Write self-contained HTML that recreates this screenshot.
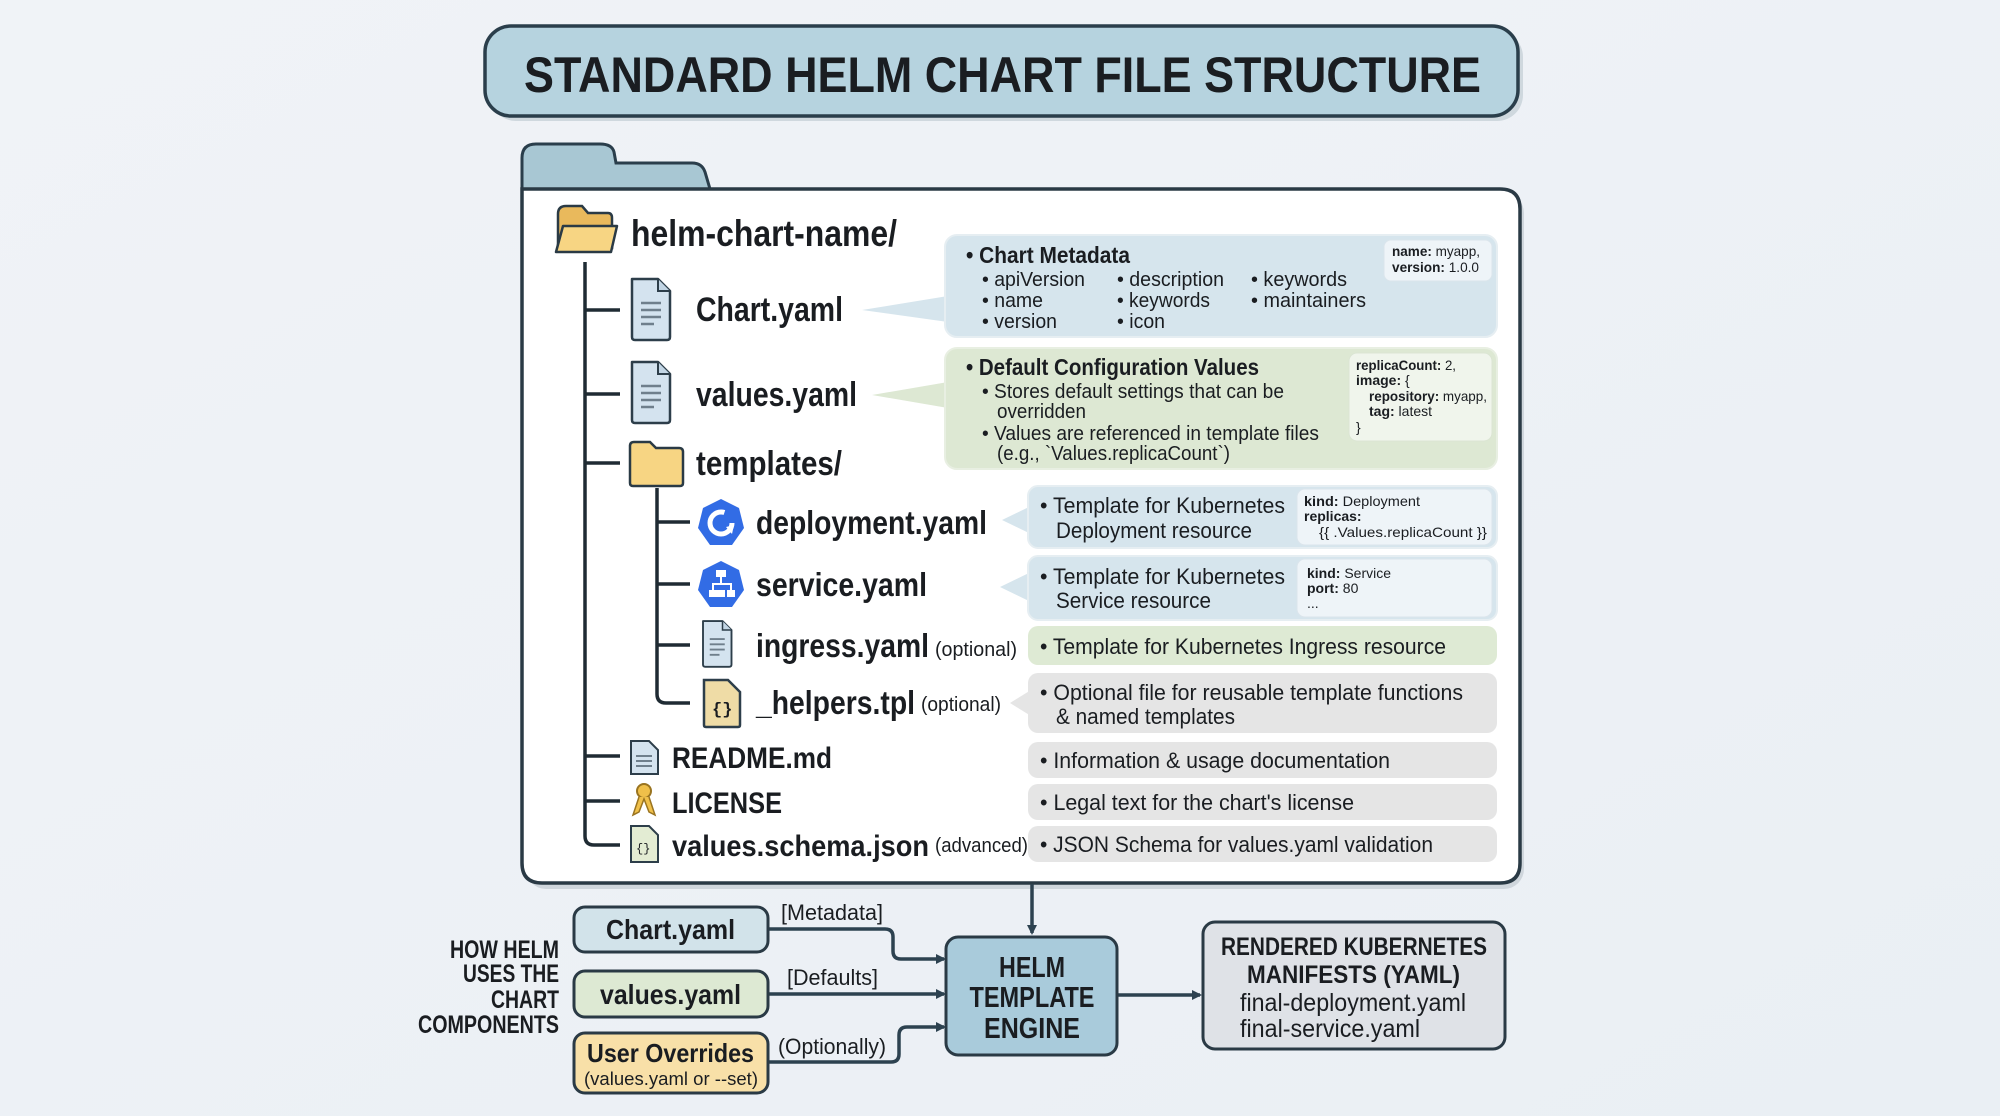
<!DOCTYPE html>
<html><head><meta charset="utf-8"><style>
html,body{margin:0;padding:0;background:#eef2f6;}
svg{display:block}
text{font-family:"Liberation Sans",sans-serif;fill:#1a1d21}
.b{font-weight:bold}
</style></head><body>
<svg width="2000" height="1116" viewBox="0 0 2000 1116" xmlns="http://www.w3.org/2000/svg">
<defs>
<linearGradient id="bg" x1="0" y1="0" x2="1" y2="1"><stop offset="0" stop-color="#f0f3f7"/><stop offset="1" stop-color="#eaeff4"/></linearGradient>
<marker id="ah" markerWidth="10" markerHeight="10" refX="8" refY="5" orient="auto" markerUnits="userSpaceOnUse"><path d="M0,0 L10,5 L0,10 z" fill="#2d4250"/></marker>
<g id="doc"><path d="M0,0 H26 L38,12 V58 Q38,61 35,61 H3 Q0,61 0,58 Z" fill="#d4e3ef" stroke="#2d3e4a" stroke-width="2.5" stroke-linejoin="round"/><path d="M26,0 V12 H38" fill="#c2d5e4" stroke="#2d3e4a" stroke-width="2"/><path d="M9,24 H29 M9,31 H29 M9,38 H29 M9,45 H22" stroke="#6f7f8c" stroke-width="2.5"/></g>
<g id="hept"><polygon points="23,0 41,9 46,29 34,46 12,46 0,29 5,9" fill="#326ce5"/></g>
</defs>
<rect width="2000" height="1116" fill="url(#bg)"/>

<!-- title -->
<rect x="490" y="31" width="1033" height="90" rx="26" fill="#cfd8de"/>
<rect x="485" y="26" width="1033" height="90" rx="26" fill="#b6d3df" stroke="#2a3e4b" stroke-width="3.5"/>
<text x="524" y="92" class="b" font-size="50" textLength="957" lengthAdjust="spacingAndGlyphs">STANDARD HELM CHART FILE STRUCTURE</text>

<!-- panel -->
<path d="M522,189 V158 Q522,144 536,144 H600 Q612,144 614,152 L616,163 H692 Q702,163 705,172 L710,189 Z" fill="#a8c7d3" stroke="#2a3e4b" stroke-width="3"/>
<rect x="526" y="193" width="998" height="696" rx="20" fill="#cfd6dc"/>
<path d="M522,189 H1500 Q1520,189 1520,209 V863 Q1520,883 1500,883 H542 Q522,883 522,863 Z" fill="#ffffff" stroke="#2a3a45" stroke-width="3.5"/>

<!-- tree lines -->
<g stroke="#1f2b33" stroke-width="3.5" fill="none">
<path d="M585,262 V836 Q585,845 594,845 H620"/>
<path d="M585,310 H620 M585,394 H620 M585,463 H620 M585,756 H620 M585,801 H620"/>
<path d="M657,488 V694 Q657,703 666,703 H690"/>
<path d="M657,522 H690 M657,584 H690 M657,645 H690"/>
</g>

<!-- root folder -->
<path d="M558,214 Q558,206 566,206 H582 L588,213 H608 Q612,213 612,218 V248 H558 Z" fill="#e9b95c" stroke="#2a3a45" stroke-width="2.5"/>
<path d="M556,252 L563,226 H617 L611,252 Z" fill="#f7d583" stroke="#2a3a45" stroke-width="2.5" stroke-linejoin="round"/>
<text x="631" y="246" class="b" font-size="37" textLength="266" lengthAdjust="spacingAndGlyphs">helm-chart-name/</text>

<use href="#doc" x="632" y="279"/>
<text x="696" y="321" class="b" font-size="34" textLength="147" lengthAdjust="spacingAndGlyphs">Chart.yaml</text>
<use href="#doc" x="632" y="362"/>
<text x="696" y="406" class="b" font-size="34" textLength="161" lengthAdjust="spacingAndGlyphs">values.yaml</text>
<path d="M630,446 Q630,442 634,442 H650 L656,448 H679 Q683,448 683,452 V483 Q683,486 680,486 H633 Q630,486 630,483 Z" fill="#f7d583" stroke="#2a3a45" stroke-width="2.5"/>
<text x="696" y="475" class="b" font-size="34" textLength="146" lengthAdjust="spacingAndGlyphs">templates/</text>

<!-- deployment -->
<use href="#hept" x="698" y="499"/>
<circle cx="721" cy="523" r="11" fill="none" stroke="#fff" stroke-width="5" stroke-dasharray="55 15"/>
<path d="M726,527 l8,-2 l-2,9 z" fill="#fff"/>
<text x="756" y="534" class="b" font-size="33" textLength="231" lengthAdjust="spacingAndGlyphs">deployment.yaml</text>
<!-- service -->
<use href="#hept" x="698" y="561"/>
<g fill="#fff"><rect x="716" y="570" width="10" height="7"/><rect x="709" y="590" width="8" height="7"/><rect x="717" y="590" width="8" height="7"/><rect x="727" y="590" width="8" height="7"/></g>
<path d="M721,577 V584 M713,590 V584 H731 V590" stroke="#fff" stroke-width="2" fill="none"/>
<text x="756" y="596" class="b" font-size="33" textLength="171" lengthAdjust="spacingAndGlyphs">service.yaml</text>
<!-- ingress -->
<use href="#doc" transform="translate(703,621) scale(0.75)"/>
<text x="756" y="657" class="b" font-size="33" textLength="173" lengthAdjust="spacingAndGlyphs">ingress.yaml</text>
<text x="935" y="656" font-size="20" textLength="82" lengthAdjust="spacingAndGlyphs">(optional)</text>
<!-- helpers -->
<path d="M704,680 H728 L740,692 V725 Q740,727 738,727 H706 Q704,727 704,725 Z" fill="#efdca6" stroke="#2d3e4a" stroke-width="2.5"/>
<text x="712" y="714" font-size="17" class="b" style="font-family:'Liberation Mono',monospace">{}</text>
<text x="756" y="714" class="b" font-size="33" textLength="159" lengthAdjust="spacingAndGlyphs">_helpers.tpl</text>
<text x="921" y="711" font-size="20" textLength="80" lengthAdjust="spacingAndGlyphs">(optional)</text>

<!-- readme -->
<path d="M631,741 H649 L658,750 V774 H631 Z" fill="#d4e3ef" stroke="#2d3e4a" stroke-width="2"/>
<path d="M636,756 H652 M636,761 H652 M636,766 H652" stroke="#6f7f8c" stroke-width="2"/>
<text x="672" y="768" class="b" font-size="30" textLength="160" lengthAdjust="spacingAndGlyphs">README.md</text>
<!-- license -->
<circle cx="644" cy="791" r="7" fill="#f0c04a" stroke="#9a7420" stroke-width="2"/>
<path d="M639,797 L633,815 L639,812 L644,799 L649,812 L655,815 L649,797" fill="#f0c04a" stroke="#9a7420" stroke-width="1.5"/>
<text x="672" y="813" class="b" font-size="30" textLength="110" lengthAdjust="spacingAndGlyphs">LICENSE</text>
<!-- schema -->
<path d="M631,826 H649 L658,835 V862 H631 Z" fill="#e3ecd3" stroke="#2d3e4a" stroke-width="2"/>
<text x="636" y="852" font-size="12" style="font-family:'Liberation Mono',monospace">{}</text>
<text x="672" y="856" class="b" font-size="30" textLength="257" lengthAdjust="spacingAndGlyphs">values.schema.json</text>
<text x="935" y="852" font-size="20" textLength="93" lengthAdjust="spacingAndGlyphs">(advanced)</text>

<!-- callouts -->
<g>
<path d="M948,296 L862,310 L948,322 Z" fill="#d6e5ed"/>
<rect x="945" y="235" width="552" height="102" rx="12" fill="#d6e5ed" stroke="#e6eef2" stroke-width="2"/>
<rect x="1384" y="240" width="108" height="41" rx="7" fill="#eef4f8" stroke="#dbe5ec"/>
<text x="1392" y="256" font-size="14" textLength="88" lengthAdjust="spacingAndGlyphs"><tspan class="b">name:</tspan> myapp,</text>
<text x="1392" y="272" font-size="14" textLength="87" lengthAdjust="spacingAndGlyphs"><tspan class="b">version:</tspan> 1.0.0</text>
<text x="966" y="263" class="b" font-size="23" textLength="164" lengthAdjust="spacingAndGlyphs">• Chart Metadata</text>
<g font-size="20">
<text x="982" y="286" textLength="103" lengthAdjust="spacingAndGlyphs">• apiVersion</text>
<text x="982" y="307" textLength="61" lengthAdjust="spacingAndGlyphs">• name</text>
<text x="982" y="328" textLength="75" lengthAdjust="spacingAndGlyphs">• version</text>
<text x="1117" y="286" textLength="107" lengthAdjust="spacingAndGlyphs">• description</text>
<text x="1117" y="307" textLength="93" lengthAdjust="spacingAndGlyphs">• keywords</text>
<text x="1117" y="328" textLength="48" lengthAdjust="spacingAndGlyphs">• icon</text>
<text x="1251" y="286" textLength="96" lengthAdjust="spacingAndGlyphs">• keywords</text>
<text x="1251" y="307" textLength="115" lengthAdjust="spacingAndGlyphs">• maintainers</text>
</g>
</g>

<g>
<path d="M948,382 L872,395 L948,408 Z" fill="#dde8d3"/>
<rect x="945" y="348" width="552" height="121" rx="12" fill="#dde8d3" stroke="#e8efe2" stroke-width="2"/>
<rect x="1349" y="353" width="143" height="88" rx="8" fill="#f0f5ec" stroke="#dbe5d3"/>
<g font-size="14">
<text x="1356" y="370" textLength="100" lengthAdjust="spacingAndGlyphs"><tspan class="b">replicaCount:</tspan> 2,</text>
<text x="1356" y="385"><tspan class="b">image:</tspan> {</text>
<text x="1369" y="401" textLength="118" lengthAdjust="spacingAndGlyphs"><tspan class="b">repository:</tspan> myapp,</text>
<text x="1369" y="416"><tspan class="b">tag:</tspan> latest</text>
<text x="1356" y="432">}</text>
</g>
<text x="966" y="375" class="b" font-size="23" textLength="293" lengthAdjust="spacingAndGlyphs">• Default Configuration Values</text>
<g font-size="20">
<text x="982" y="398" textLength="302" lengthAdjust="spacingAndGlyphs">• Stores default settings that can be</text>
<text x="997" y="418" textLength="89" lengthAdjust="spacingAndGlyphs">overridden</text>
<text x="982" y="440" textLength="337" lengthAdjust="spacingAndGlyphs">• Values are referenced in template files</text>
<text x="997" y="460" textLength="233" lengthAdjust="spacingAndGlyphs">(e.g., `Values.replicaCount`)</text>
</g>
</g>

<g font-size="22">
<path d="M1031,506 L1002,520 L1031,534 Z" fill="#d6e5ed"/>
<rect x="1028" y="486" width="469" height="62" rx="10" fill="#d6e5ed" stroke="#e6eef2" stroke-width="2"/>
<rect x="1297" y="489" width="195" height="56" rx="8" fill="#eef4f8" stroke="#dbe5ec"/>
<text x="1040" y="513" textLength="245" lengthAdjust="spacingAndGlyphs">• Template for Kubernetes</text>
<text x="1056" y="538" textLength="196" lengthAdjust="spacingAndGlyphs">Deployment resource</text>
<text x="1304" y="506" font-size="14" textLength="116" lengthAdjust="spacingAndGlyphs"><tspan class="b">kind:</tspan> Deployment</text>
<text x="1304" y="521" font-size="14" class="b">replicas:</text>
<text x="1319" y="537" font-size="14" textLength="168" lengthAdjust="spacingAndGlyphs">{{ .Values.replicaCount }}</text>

<path d="M1031,572 L1000,587 L1031,602 Z" fill="#d6e5ed"/>
<rect x="1028" y="556" width="469" height="64" rx="10" fill="#d6e5ed" stroke="#e6eef2" stroke-width="2"/>
<rect x="1297" y="559" width="195" height="58" rx="8" fill="#eef4f8" stroke="#dbe5ec"/>
<text x="1040" y="584" textLength="245" lengthAdjust="spacingAndGlyphs">• Template for Kubernetes</text>
<text x="1056" y="608" textLength="155" lengthAdjust="spacingAndGlyphs">Service resource</text>
<text x="1307" y="578" font-size="14"><tspan class="b">kind:</tspan> Service</text>
<text x="1307" y="593" font-size="14"><tspan class="b">port:</tspan> 80</text>
<text x="1307" y="608" font-size="14">...</text>

<rect x="1028" y="626" width="469" height="39" rx="10" fill="#deead4"/>
<text x="1040" y="654" textLength="406" lengthAdjust="spacingAndGlyphs">• Template for Kubernetes Ingress resource</text>

<path d="M1031,690 L1010,703 L1031,716 Z" fill="#e5e5e5"/>
<rect x="1028" y="673" width="469" height="60" rx="10" fill="#e5e5e5"/>
<text x="1040" y="700" textLength="423" lengthAdjust="spacingAndGlyphs">• Optional file for reusable template functions</text>
<text x="1056" y="724" textLength="179" lengthAdjust="spacingAndGlyphs">&amp; named templates</text>

<rect x="1028" y="742" width="469" height="36" rx="10" fill="#e5e5e5"/>
<text x="1040" y="768" textLength="350" lengthAdjust="spacingAndGlyphs">• Information &amp; usage documentation</text>
<rect x="1028" y="784" width="469" height="36" rx="10" fill="#e5e5e5"/>
<text x="1040" y="810" textLength="314" lengthAdjust="spacingAndGlyphs">• Legal text for the chart's license</text>
<rect x="1028" y="826" width="469" height="36" rx="10" fill="#e5e5e5"/>
<text x="1040" y="852" textLength="393" lengthAdjust="spacingAndGlyphs">• JSON Schema for values.yaml validation</text>
</g>

<!-- bottom flow -->
<g stroke="#2d4250" stroke-width="3.5" fill="none">
<path d="M1032,884 V933" marker-end="url(#ah)"/>
<path d="M768,929 H885 Q893,929 893,937 V951 Q893,959 901,959 H944" marker-end="url(#ah)"/>
<path d="M768,994 H944" marker-end="url(#ah)"/>
<path d="M768,1062 H891 Q899,1062 899,1054 V1035 Q899,1027 907,1027 H944" marker-end="url(#ah)"/>
<path d="M1117,995 H1200" marker-end="url(#ah)"/>
</g>

<rect x="574" y="907" width="194" height="45" rx="11" fill="#d2e3ea" stroke="#2a3a45" stroke-width="3"/>
<text x="606" y="939" class="b" font-size="28" textLength="129" lengthAdjust="spacingAndGlyphs">Chart.yaml</text>
<rect x="574" y="971" width="194" height="46" rx="11" fill="#dde9d3" stroke="#2a3a45" stroke-width="3"/>
<text x="600" y="1004" class="b" font-size="28" textLength="141" lengthAdjust="spacingAndGlyphs">values.yaml</text>
<rect x="574" y="1033" width="194" height="60" rx="11" fill="#f8e0a8" stroke="#2a3a45" stroke-width="3"/>
<text x="587" y="1062" class="b" font-size="26" textLength="167" lengthAdjust="spacingAndGlyphs">User Overrides</text>
<text x="584" y="1085" font-size="18" textLength="174" lengthAdjust="spacingAndGlyphs">(values.yaml or --set)</text>

<text x="781" y="920" font-size="22" textLength="102" lengthAdjust="spacingAndGlyphs">[Metadata]</text>
<text x="787" y="985" font-size="22" textLength="91" lengthAdjust="spacingAndGlyphs">[Defaults]</text>
<text x="778" y="1054" font-size="22" textLength="108" lengthAdjust="spacingAndGlyphs">(Optionally)</text>

<g class="b" font-size="25" text-anchor="end">
<text x="559" y="958" textLength="109" lengthAdjust="spacingAndGlyphs">HOW HELM</text>
<text x="559" y="982" textLength="96" lengthAdjust="spacingAndGlyphs">USES THE</text>
<text x="559" y="1008" textLength="68" lengthAdjust="spacingAndGlyphs">CHART</text>
<text x="559" y="1033" textLength="141" lengthAdjust="spacingAndGlyphs">COMPONENTS</text>
</g>

<rect x="946" y="937" width="171" height="118" rx="12" fill="#a9cbdb" stroke="#2a3a45" stroke-width="3"/>
<g class="b" font-size="29" text-anchor="middle">
<text x="1032" y="977" textLength="66" lengthAdjust="spacingAndGlyphs">HELM</text>
<text x="1032" y="1007" textLength="125" lengthAdjust="spacingAndGlyphs">TEMPLATE</text>
<text x="1032" y="1038" textLength="96" lengthAdjust="spacingAndGlyphs">ENGINE</text>
</g>

<rect x="1203" y="922" width="302" height="127" rx="12" fill="#dfe2e7" stroke="#2a3a45" stroke-width="3"/>
<text x="1221" y="955" class="b" font-size="25" textLength="266" lengthAdjust="spacingAndGlyphs">RENDERED KUBERNETES</text>
<text x="1247" y="983" class="b" font-size="25" textLength="213" lengthAdjust="spacingAndGlyphs">MANIFESTS (YAML)</text>
<text x="1240" y="1011" font-size="25" textLength="226" lengthAdjust="spacingAndGlyphs">final-deployment.yaml</text>
<text x="1240" y="1037" font-size="25" textLength="180" lengthAdjust="spacingAndGlyphs">final-service.yaml</text>
</svg>
</body></html>
